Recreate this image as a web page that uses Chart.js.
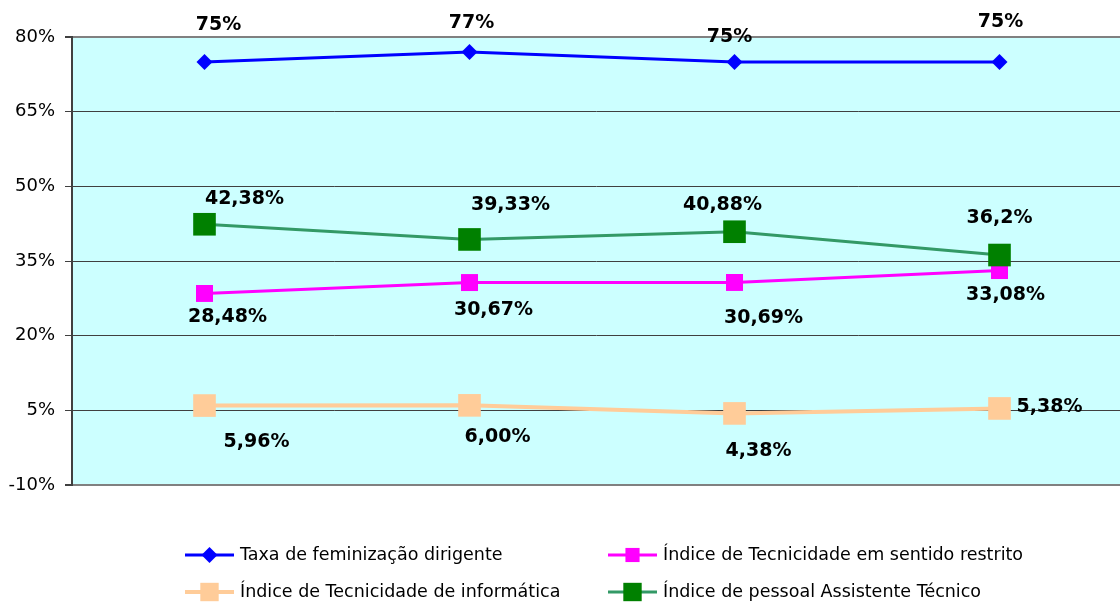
<!DOCTYPE html>
<html>
<head>
<meta charset="utf-8">
<script src="https://cdn.jsdelivr.net/npm/chart.js@4.4.1/dist/chart.umd.min.js"></script>
<style>
  html, body { margin: 0; padding: 0; background: #ffffff; overflow: hidden; }
  #c { display: block; }
</style>
</head>
<body>
<canvas id="c" width="1120" height="602"></canvas>
<script>
// ---- data ----
const categories = ["1", "2", "3", "4"];
const seriesNames = [
  "Taxa de feminização dirigente",
  "Índice de Tecnicidade em sentido restrito",
  "Índice de Tecnicidade de informática",
  "Índice de pessoal Assistente Técnico"
];
const feminizacao = [75, 77, 75, 75];
const tecnicidadeRestrito = [28.48, 30.67, 30.69, 33.08];
const tecnicidadeInformatica = [5.96, 6.00, 4.38, 5.38];
const assistenteTecnico = [42.38, 39.33, 40.88, 36.2];
const labelsFeminizacao = ["75%", "77%", "75%", "75%"];
const labelsRestrito = ["28,48%", "30,67%", "30,69%", "33,08%"];
const labelsInformatica = ["5,96%", "6,00%", "4,38%", "5,38%"];
const labelsAssistente = ["42,38%", "39,33%", "40,88%", "36,2%"];
const yTicks = [-10, 5, 20, 35, 50, 65, 80];

// ---- label placement (style) ----
const offsFem = [[14,-37],[2,-29],[-5,-25],[1,-40]];
const offsRes = [[23,24],[24,28],[29,36],[6,25]];
const offsInf = [[52,37],[28,32],[24,38],[50,-1]];
const offsAss = [[40,-25],[41,-34],[-12,-27],[0,-37]];

const toXY = arr => arr.map((v, i) => ({ x: i, y: v }));

const datasets = [
  { label: seriesNames[0], data: toXY(feminizacao), borderColor: "#0000ff", backgroundColor: "#0000ff",
    borderWidth: 3, pointStyle: "rectRot", pointRadius: 8, pointHoverRadius: 8, order: 1,
    _labels: labelsFeminizacao, _offs: offsFem },
  { label: seriesNames[1], data: toXY(tecnicidadeRestrito), borderColor: "#ff00ff", backgroundColor: "#ff00ff",
    borderWidth: 3, pointStyle: "rect", pointRadius: 12, pointHoverRadius: 12, order: 2,
    _labels: labelsRestrito, _offs: offsRes },
  { label: seriesNames[2], data: toXY(tecnicidadeInformatica), borderColor: "#ffcc99", backgroundColor: "#ffcc99",
    borderWidth: 4, pointStyle: "rect", pointRadius: 16, pointHoverRadius: 16, order: 3,
    _labels: labelsInformatica, _offs: offsInf },
  { label: seriesNames[3], data: toXY(assistenteTecnico), borderColor: "#339966", backgroundColor: "#008000",
    borderWidth: 3, pointStyle: "rect", pointRadius: 16, pointHoverRadius: 16, order: 0,
    _labels: labelsAssistente, _offs: offsAss }
];
datasets.forEach(d => { d.pointBorderWidth = 0; d.tension = 0; d.fill = false; });

const bgPlugin = {
  id: "plotBg",
  beforeDraw(chart) {
    const { ctx, chartArea: a } = chart;
    ctx.save();
    ctx.fillStyle = "#ccffff";
    ctx.fillRect(a.left, a.top, a.right - a.left, a.bottom - a.top);
    ctx.restore();
  }
};

const labelPlugin = {
  id: "valLabels",
  afterDatasetsDraw(chart) {
    const ctx = chart.ctx;
    ctx.save();
    ctx.font = "bold 19px 'DejaVu Sans'";
    ctx.fillStyle = "#000";
    ctx.textAlign = "center";
    ctx.textBaseline = "middle";
    chart.data.datasets.forEach((ds, i) => {
      const meta = chart.getDatasetMeta(i);
      meta.data.forEach((pt, j) => {
        const o = ds._offs[j];
        ctx.fillText(ds._labels[j], pt.x + o[0], pt.y + o[1]);
      });
    });
    ctx.restore();
  }
};

function drawMarker(ctx, style, x, y, r, color) {
  ctx.fillStyle = color;
  ctx.beginPath();
  if (style === "rectRot") {
    ctx.moveTo(x, y - r); ctx.lineTo(x + r, y); ctx.lineTo(x, y + r); ctx.lineTo(x - r, y);
    ctx.closePath();
  } else {
    const h = r * Math.SQRT1_2;
    ctx.rect(x - h, y - h, 2 * h, 2 * h);
  }
  ctx.fill();
}

const legendPlugin = {
  id: "customLegend",
  afterDraw(chart) {
    const ctx = chart.ctx;
    const pos = [[185, 555], [608, 555], [185, 592], [608, 592]];
    const legendRadius = [8, 10, 13, 13];
    ctx.save();
    ctx.font = "17.5px 'DejaVu Sans'";
    ctx.textBaseline = "middle";
    ctx.textAlign = "left";
    chart.data.datasets.forEach((ds, i) => {
      const [x, y] = pos[i];
      ctx.strokeStyle = ds.borderColor;
      ctx.lineWidth = ds.borderWidth;
      ctx.beginPath(); ctx.moveTo(x, y); ctx.lineTo(x + 49, y); ctx.stroke();
      drawMarker(ctx, ds.pointStyle, x + 24.5, y, legendRadius[i], ds.backgroundColor);
      ctx.fillStyle = "#000";
      ctx.fillText(ds.label, x + 55, y);
    });
    ctx.restore();
  }
};

new Chart(document.getElementById("c"), {
  type: "line",
  data: { labels: categories, datasets },
  plugins: [bgPlugin, labelPlugin, legendPlugin],
  options: {
    responsive: false,
    maintainAspectRatio: false,
    devicePixelRatio: 1,
    animation: false,
    events: [],
    layout: { autoPadding: false, padding: { top: 37, bottom: 117, left: 0, right: 0 } },
    plugins: { legend: { display: false }, tooltip: { enabled: false } },
    scales: {
      x: {
        type: "linear",
        min: -0.5,
        max: 3.4547,
        grid: { display: false },
        ticks: { display: false },
        border: { display: true, color: "#808080", width: 2 },
        afterFit(s) { s.height = 0; s.paddingLeft = 0; s.paddingRight = 0; }
      },
      y: {
        min: -10, max: 80,
        afterBuildTicks(s) { s.ticks = yTicks.map(v => ({ value: v })); },
        ticks: {
          font: { family: "'DejaVu Sans'", size: 18 },
          color: "#000",
          padding: 10,
          callback: v => v + "%"
        },
        grid: {
          color: ctx => (ctx.tick && (ctx.tick.value === 80 || ctx.tick.value === -10)) ? "#808080" : "#404040",
          lineWidth: ctx => (ctx.tick && (ctx.tick.value === 80 || ctx.tick.value === -10)) ? 2 : 1,
          tickLength: 7,
          tickColor: "#404040"
        },
        border: { display: true, color: "#404040", width: 2 },
        afterFit(s) { s.width = 72; }
      }
    }
  }
});
</script>
</body>
</html>
